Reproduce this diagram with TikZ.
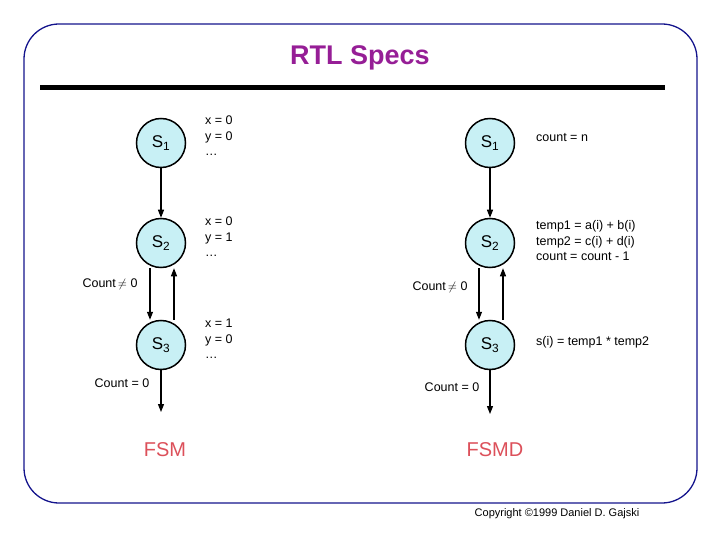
\documentclass[tikz,border=0pt]{standalone}
\usepackage{fontspec}
\setmainfont{Liberation Sans}
\usetikzlibrary{arrows.meta}
\definecolor{frame}{RGB}{20,20,140}
\definecolor{ttl}{RGB}{150,30,150}
\definecolor{lbl}{RGB}{220,80,90}
\definecolor{fill}{RGB}{200,240,245}
\begin{document}
\begin{tikzpicture}[x=1pt,y=-1pt,
  st/.style={circle,draw,line width=1.5pt,fill=fill,minimum size=49pt,inner sep=0pt,font=\fontsize{17}{17}\selectfont},
  ar/.style={line width=1.2pt,-{Triangle[length=8pt,width=6pt]}},
  tx/.style={anchor=west,font=\fontsize{12.5}{15.5}\selectfont,align=left,inner sep=0pt},
  sm/.style={font=\fontsize{12.5}{14}\selectfont,inner sep=0pt}]
\useasboundingbox (0,0) rectangle (720,540);
\draw[frame,line width=1.3pt,rounded corners=35pt] (24,24) rectangle (697,503);
\node[ttl,font=\bfseries\fontsize{27}{27}\selectfont] (title) at (360,58) {RTL Specs};
\draw[line width=5pt] (40,88) -- (665,88);
% FSM
\node[st] (a1) at (161,143) {S\textsubscript{1}};
\node[st] (a2) at (161,243) {S\textsubscript{2}};
\node[st] (a3) at (161,345) {S\textsubscript{3}};
\draw[ar] (a1) -- (a2);
\draw[ar] ([xshift=-11pt]a2.south) -- ([xshift=-11pt]a3.north);
\draw[ar] ([xshift=13pt]a3.north) -- ([xshift=13pt]a2.south);
\coordinate (aend) at (161,412);
\draw[ar] (a3) -- (aend);
\node[sm] (c1) at (110,284) {Count$\,\neq$ 0};
\node[sm] (c2) at (122,383) {Count = 0};
\node[tx] (t1) at (205,136) {x = 0\\y = 0\\\ldots};
\node[tx] (t2) at (205,237) {x = 0\\y = 1\\\ldots};
\node[tx] (t3) at (205,339) {x = 1\\y = 0\\\ldots};
\node[lbl,font=\fontsize{20}{20}\selectfont] (fsm) at (165,450) {FSM};
% FSMD
\node[st] (b1) at (490,143) {S\textsubscript{1}};
\node[st] (b2) at (490,243) {S\textsubscript{2}};
\node[st] (b3) at (490,345) {S\textsubscript{3}};
\draw[ar] (b1) -- (b2);
\draw[ar] ([xshift=-11pt]b2.south) -- ([xshift=-11pt]b3.north);
\draw[ar] ([xshift=13pt]b3.north) -- ([xshift=13pt]b2.south);
\coordinate (bend) at (490,414);
\draw[ar] (b3) -- (bend);
\node[sm] (d1) at (440,287) {Count$\,\neq$ 0};
\node[sm] (d2) at (452,387) {Count = 0};
\node[tx] (u1) at (536,138) {count = n};
\node[tx] (u2) at (536,241) {temp1 = a(i) + b(i)\\temp2 = c(i) + d(i)\\count = count - 1};
\node[tx] (u3) at (536,342) {s(i) = temp1 * temp2};
\node[lbl,font=\fontsize{20}{20}\selectfont] (fsmd) at (495,450) {FSMD};
\node[font=\fontsize{11}{11}\selectfont] (copy) at (557,514) {Copyright \textcopyright1999 Daniel D. Gajski};
\end{tikzpicture}
\end{document}
